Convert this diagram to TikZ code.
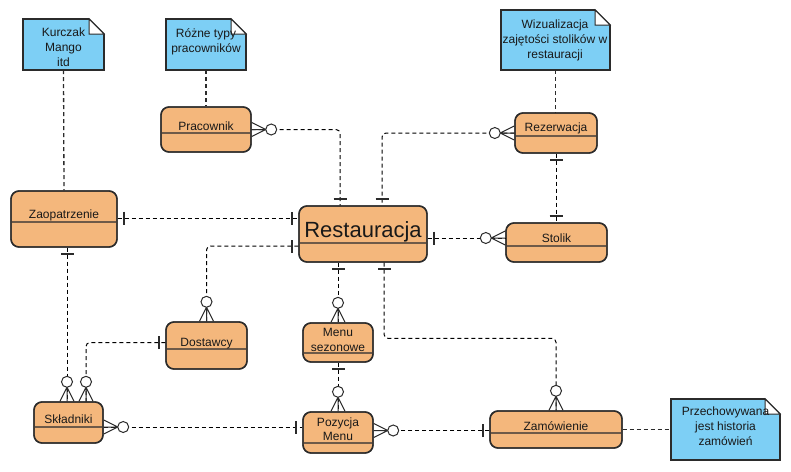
\documentclass[tikz,border=0pt]{standalone}
\usepackage{fontspec}
\setmainfont{Liberation Sans}
\usetikzlibrary{calc,fit}
\definecolor{entfill}{HTML}{F4B77C}
\definecolor{notefill}{HTML}{7DCFF5}
\definecolor{edgec}{HTML}{2B2B2B}
\definecolor{divc}{HTML}{6E5A48}
\tikzset{
 entbox/.style={draw=edgec, line width=1.4pt, fill=entfill, rounded corners=8pt, inner sep=0pt},
 enttext/.style={font=\fontsize{12}{14.5}\selectfont, align=center, inner sep=0pt, text=black!90, anchor=base},
 notetext/.style={font=\fontsize{12}{15}\selectfont, align=center, inner sep=0pt, text=black!90, anchor=base},
 rel/.style={draw=black, line width=1pt, dash pattern=on 4pt off 3pt, rounded corners=4pt},
 notelink/.style={draw=edgec, line width=1.3pt, dash pattern=on 4pt off 3pt},
 crowl/.style={draw=edgec, line width=1pt, solid},
 barl/.style={draw=edgec, line width=2pt, solid},
 divl/.style={draw=divc, line width=1.4pt},
}
\newcommand{\zm}[2]{\begin{scope}[shift={#1},rotate=#2]\draw[crowl] (0,7)--(14,0)--(0,-7) (0,0)--(14,0);\draw[crowl,fill=white] (19.5,0) circle (5.5);\end{scope}}
\newcommand{\ob}[2]{\begin{scope}[shift={#1},rotate=#2]\draw[barl] (6.5,-6.5)--(6.5,6.5);\end{scope}}
\newcommand{\entity}[6]{%
 \node[entbox, fit={(#2,#3) (#4,#5)}] (#1) {};
 \draw[divl] (#2,#6) -- (#4,#6);
 \draw[draw=edgec, line width=1.4pt, rounded corners=8pt] (#2,#3) rectangle (#4,#5);}
\newcommand{\notebox}[5]{%
 \path[draw=edgec, line width=1.6pt, fill=notefill] (#2,#3) -- (#4-15,#3) -- (#4,#3+15) -- (#4,#5) -- (#2,#5) -- cycle;
 \path[draw=edgec, line width=1pt, fill=white] (#4-15,#3) -- (#4-15,#3+15) -- (#4,#3+15) -- cycle;
 \node[inner sep=0pt, fit={(#2,#3) (#4,#5)}] (#1) {};}
\begin{document}
\begin{tikzpicture}[x=1pt,y=-1pt]
\useasboundingbox[fill=white] (0,0) rectangle (791,471);
% notes
\notebox{n1}{23}{19}{104}{70}
\notebox{n2}{166}{19}{246}{70}
\notebox{n3}{501}{10}{610}{70}
\notebox{n4}{671}{399}{780}{460}
% entities
\entity{prac}{161}{107}{251}{152}{133}
\entity{rest}{299}{206}{427}{262}{243}
\entity{rez}{515}{113}{597}{153}{136}
\entity{stol}{506}{223}{607}{262}{246}
\entity{zaop}{11}{191}{117}{247}{222}
\entity{dost}{166}{322}{247}{369}{349}
\entity{msez}{303}{323}{373}{362}{353}
\entity{poz}{303}{412}{373}{453}{443}
\entity{skl}{34}{402}{103}{443}{427}
\entity{zam}{490}{411}{622}{448}{433}
% note links
\draw[notelink] (n1.south) -- (zaop.north);
\draw[notelink] (n2.south) -- (prac.north);
\draw[notelink] (n3.south) -- (n3.south |- rez.north);
\draw[notelink] (zam.east) -- (zam.east -| n4.west);
% relationships
\draw[rel] (prac.east) -| ($(rest.north)+(-23,0)$);
\draw[rel] (rez.west) -| ($(rest.north)+(19,0)$);
\draw[rel] (rez.south) -- (rez.south |- stol.north);
\draw[rel] ($(rest.east)+(0,4)$) coordinate (rsA) -- (rsA -| stol.west);
\draw[rel] ($(zaop.east)+(0,-1)$) coordinate (zrA) -- (zrA -| rest.west);
\draw[rel] ($(rest.west)+(0,12)$) -| (dost.north);
\draw[rel] ($(rest.south)+(-25,0)$) -- (msez.north);
\draw[rel] ($(rest.south)+(21,0)$) |- ($(zam.north)+(0,-72)$) -- (zam.north);
\draw[rel] ($(zaop.south)+(3,0)$) coordinate (zsA) -- (zsA |- skl.north);
\draw[rel] ($(dost.west)+(0,-3)$) -| ($(skl.north)+(17.5,0)$);
\draw[rel] ($(skl.east)+(0,4.5)$) coordinate (spA) -- (spA -| poz.west);
\draw[rel] (msez.south) -- (poz.north);
\draw[rel] ($(zam.west)+(0,1)$) coordinate (pzA) -- (pzA -| poz.east);
% ends
\zm{(prac.east)}{0}
\ob{($(rest.north)+(-23,0)$)}{90}
\zm{(rez.west)}{180}
\ob{($(rest.north)+(19,0)$)}{90}
\ob{(rez.south)}{270}
\ob{(rez.south |- stol.north)}{90}
\ob{(rsA)}{0}
\zm{(rsA -| stol.west)}{180}
\ob{(zrA)}{0}
\ob{(zrA -| rest.west)}{180}
\ob{($(rest.west)+(0,12)$)}{180}
\zm{(dost.north)}{90}
\ob{($(rest.south)+(-25,0)$)}{270}
\zm{(msez.north)}{90}
\ob{($(rest.south)+(21,0)$)}{270}
\zm{(zam.north)}{90}
\ob{(zsA)}{270}
\zm{(zsA |- skl.north)}{90}
\ob{($(dost.west)+(0,-3)$)}{180}
\zm{($(skl.north)+(17.5,0)$)}{90}
\zm{(spA)}{0}
\ob{(spA -| poz.west)}{180}
\ob{(msez.south)}{270}
\zm{(poz.north)}{90}
\zm{(pzA -| poz.east)}{0}
\ob{(pzA)}{180}
% texts (multi-line: anchor base = last line baseline)
\node[enttext] (prac-t) at (206,130) {Pracownik};
\node[enttext, font=\fontsize{22}{26}\selectfont] (rest-t) at (363,237) {Restauracja};
\node[enttext] (rez-t) at (556,131.5) {Rezerwacja};
\node[enttext] (stol-t) at (556.5,242.5) {Stolik};
\node[enttext] (zaop-t) at (64,218) {Zaopatrzenie};
\node[enttext] (dost-t) at (206.5,346) {Dostawcy};
\node[enttext] (msez-t) at (338,351) {Menu\\sezonowe};
\node[enttext] (poz-t) at (338,440.5) {Pozycja\\Menu};
\node[enttext] (skl-t) at (68.5,423) {Składniki};
\node[enttext] (zam-t) at (556,430) {Zamówienie};
\node[notetext] (n1-t) at (63.5,66.5) {Kurczak\\Mango\\itd};
\node[notetext] (n2-t) at (206,52.5) {Różne typy\\pracowników};
\node[notetext] (n3-t) at (555,58) {Wizualizacja\\zajętości stolików w\\restauracji};
\node[notetext] (n4-t) at (725.5,445.5) {Przechowywana\\jest historia\\zamówień};
\end{tikzpicture}
\end{document}
